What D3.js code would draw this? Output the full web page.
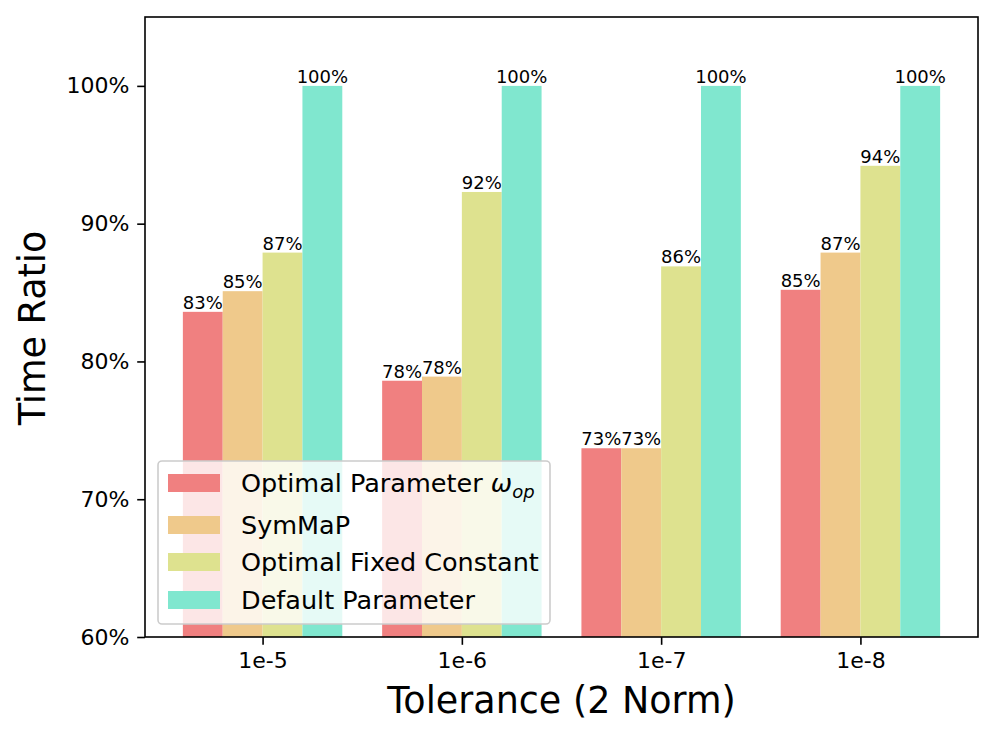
<!DOCTYPE html>
<html lang="en">
<head>
<meta charset="UTF-8">
<title>Time Ratio vs Tolerance</title>
<script src="https://cdnjs.cloudflare.com/ajax/libs/d3/7.8.5/d3.min.js"></script>
<style>
    body { margin: 0; background: #fff; font-family: 'DejaVu Sans', sans-serif; }
    svg text { font-family: 'DejaVu Sans', sans-serif; fill: #000; }
</style>
</head>
<body>
<svg id="chart" width="996" height="739"></svg>
<script>
// categories and series
const tolerances = ["1e-5", "1e-6", "1e-7", "1e-8"];
const seriesNames = ["Optimal Parameter", "SymMaP", "Optimal Fixed Constant", "Default Parameter"];
const seriesColors = ["#f08080", "#efc98b", "#dee28f", "#80e7cf"];

const valuesOptimal = [83.6, 78.6, 73.7, 85.2];
const valuesSymMaP = [85.1, 78.9, 73.7, 87.9];
const valuesFixed = [87.9, 92.3, 86.9, 94.2];
const valuesDefault = [100, 100, 100, 100];
const series = [valuesOptimal, valuesSymMaP, valuesFixed, valuesDefault];

const yTicks = [60, 70, 80, 90, 100];

const svg = d3.select("#chart");
const plotL = 145, plotR = 978, plotT = 17, plotB = 637;
const barW = 0.2;

const x = d3.scaleLinear().domain([-0.59, 3.59]).range([plotL, plotR]);
const y = d3.scaleLinear().domain([60, 105]).range([plotB, plotT]);

// bars
const g = svg.append("g");
series.forEach((vals, si) => {
    g.selectAll(null).data(vals).enter().append("rect")
        .attr("x", (d, i) => x(i - 0.4 + si * barW))
        .attr("width", x(barW) - x(0))
        .attr("y", d => y(d))
        .attr("height", d => plotB - y(d))
        .attr("fill", seriesColors[si]);
    g.selectAll(null).data(vals).enter().append("text")
        .attr("x", (d, i) => x(i - 0.4 + si * barW + barW / 2))
        .attr("y", d => y(d) - 3)
        .attr("text-anchor", "middle")
        .style("font-size", "18px")
        .text(d => Math.floor(d) + "%");
});

// axes
const xAxis = d3.axisBottom(x).tickValues(d3.range(tolerances.length))
    .tickFormat(i => tolerances[i]).tickSize(7.8).tickPadding(7.8).tickSizeOuter(0);
const yAxis = d3.axisLeft(y).tickValues(yTicks)
    .tickFormat(d => d + "%").tickSize(7.8).tickPadding(7.8).tickSizeOuter(0);

const gx = svg.append("g").attr("transform", `translate(0,${plotB})`).call(xAxis);
const gy = svg.append("g").attr("transform", `translate(${plotL},0)`).call(yAxis);
[gx, gy].forEach(a => {
    a.select(".domain").remove();
    a.selectAll(".tick line").attr("stroke", "#000").attr("stroke-width", 1.6);
    a.selectAll(".tick text").style("font-size", "22px").attr("fill", "#000");
});

// frame
svg.append("rect")
    .attr("x", plotL).attr("y", plotT)
    .attr("width", plotR - plotL).attr("height", plotB - plotT)
    .attr("fill", "none").attr("stroke", "#000").attr("stroke-width", 1.6);

// titles
svg.append("text")
    .attr("x", (plotL + plotR) / 2).attr("y", 713)
    .attr("text-anchor", "middle")
    .style("font-size", "36.5px")
    .text("Tolerance (2 Norm)");
svg.append("text")
    .attr("transform", "translate(45,328) rotate(-90)")
    .attr("text-anchor", "middle")
    .style("font-size", "36.5px")
    .text("Time Ratio");

// legend
const legend = svg.append("g");
legend.append("rect")
    .attr("x", 158).attr("y", 461).attr("width", 392).attr("height", 163)
    .attr("rx", 4).attr("fill", "rgba(255,255,255,0.8)")
    .attr("stroke", "#cccccc").attr("stroke-width", 1.6);
const rowY = [483, 525, 562, 600];
seriesNames.forEach((name, i) => {
    legend.append("rect")
        .attr("x", 168).attr("y", rowY[i] - 9).attr("width", 52).attr("height", 18)
        .attr("fill", seriesColors[i]);
    const t = legend.append("text")
        .attr("x", 241).attr("y", rowY[i] + 9)
        .style("font-size", "25.5px")
        .text(name);
    if (i === 0) {
        t.append("tspan").text(" ");
        t.append("tspan").style("font-style", "italic").text("\u03C9");
        t.append("tspan").style("font-style", "italic").style("font-size", "18px")
            .attr("dy", 6).text("op");
    }
});
</script>
</body>
</html>
